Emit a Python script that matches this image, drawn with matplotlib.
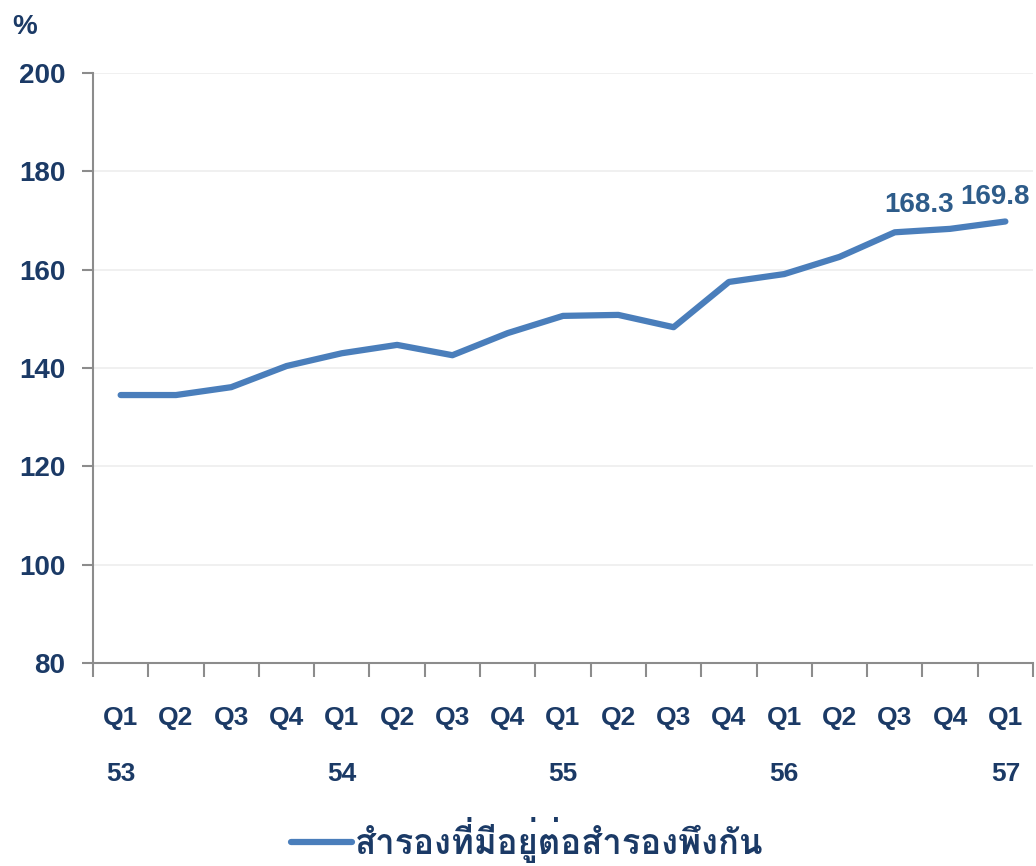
import matplotlib
matplotlib.use('Agg')
from matplotlib import pyplot as plt
from matplotlib import font_manager

quarters = ['Q1', 'Q2', 'Q3', 'Q4', 'Q1', 'Q2', 'Q3', 'Q4', 'Q1', 'Q2', 'Q3', 'Q4',
            'Q1', 'Q2', 'Q3', 'Q4', 'Q1']
years = ['53', '', '', '', '54', '', '', '', '55', '', '', '', '56', '', '', '', '57']
ratio = [134.5, 134.5, 136.1, 140.4, 143.0, 144.7, 142.6, 147.1, 150.6, 150.8,
         148.3, 157.5, 159.1, 162.6, 167.6, 168.3, 169.8]
labelled = {15: '168.3', 16: '169.8'}
series_name = 'สำรองที่มีอยู่ต่อสำรองพึงกัน'

navy = '#1B3A66'
line_col = '#4A7EBB'

thai = [f.name for f in font_manager.fontManager.ttflist if 'Thai' in f.name or 'Loma' in f.name
        or 'Garuda' in f.name or 'Sarabun' in f.name]
plt.rcParams['font.family'] = ['Liberation Sans'] + thai + ['DejaVu Sans']

fig = plt.figure(figsize=(10.36, 8.66), dpi=100)
ax = fig.add_axes([93 / 1036, 1 - 663 / 866, 940 / 1036, 590 / 866])

x = list(range(len(ratio)))
ax.plot(x, ratio, color=line_col, linewidth=4.5, solid_capstyle='round',
        solid_joinstyle='round', label=series_name)
offsets = {15: -31, 16: -10}
for i, txt in labelled.items():
    ax.annotate(txt, (x[i], ratio[i]), xytext=(offsets[i] * 0.72, 8), textcoords='offset points',
                ha='center', va='bottom', fontsize=20, fontweight='bold', color='#2E5C8A')

ax.set_xlim(-0.5, len(ratio) - 0.5)
ax.set_ylim(80, 200)
ax.set_yticks(range(80, 201, 20))
ax.grid(axis='y', color='#EDEDED', linewidth=1.2)
ax.set_axisbelow(True)
for s in ['top', 'right']:
    ax.spines[s].set_visible(False)
for s in ['left', 'bottom']:
    ax.spines[s].set_color('#8C8C8C')
    ax.spines[s].set_linewidth(1.5)

ax.set_xticks([i - 0.5 for i in range(len(ratio) + 1)])
ax.set_xticklabels([])
ax.tick_params(axis='x', length=10, width=1.5, color='#8C8C8C')
ax.tick_params(axis='y', length=8, width=1.5, color='#8C8C8C', labelsize=20,
               labelcolor=navy, pad=12)
for lab in ax.get_yticklabels():
    lab.set_fontweight('bold')

for i in x:
    ax.text(i, -0.093, quarters[i], transform=ax.get_xaxis_transform(), ha='center', va='center',
            fontsize=19, fontweight='bold', color=navy)
    if years[i]:
        ax.text(i, -0.188, years[i], transform=ax.get_xaxis_transform(), ha='center',
                va='center', fontsize=19, fontweight='bold', color=navy)

fig.text(12 / 1036, 1 - 27 / 866, '%', fontsize=20, fontweight='bold', color=navy,
         ha='left', va='center')

ax.legend(loc='center', bbox_to_anchor=(0.509, 1 - 840 / 866), bbox_transform=fig.transFigure,
          frameon=False, prop={'size': 25, 'weight': 'bold'}, labelcolor=navy,
          handlelength=1.75, handletextpad=0.1)

fig.savefig('out.png', dpi=100)
